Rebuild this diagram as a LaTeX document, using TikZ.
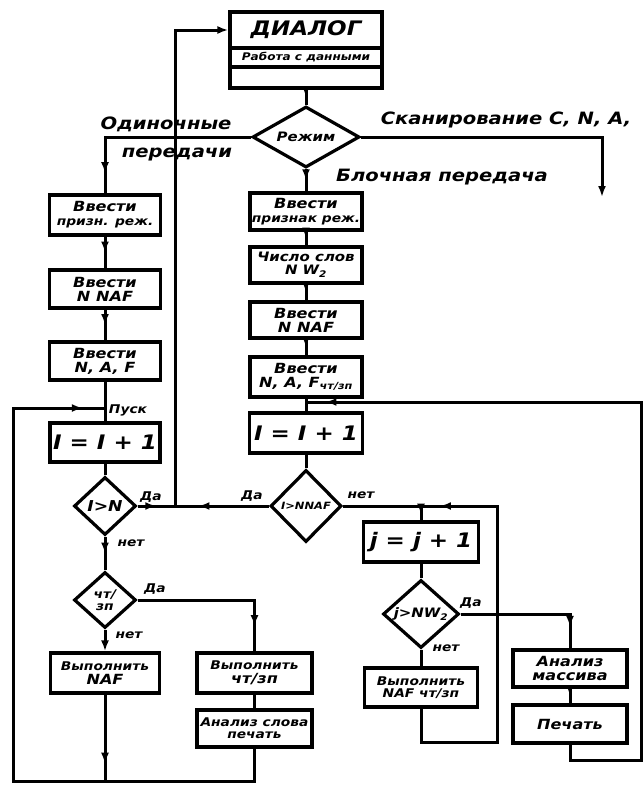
\documentclass[tikz,border=0pt]{standalone}
\usepackage{fontspec}
\newfontfamily\hand{DejaVu Sans}[FakeStretch=1.15]
\usetikzlibrary{shapes.geometric,arrows.meta,decorations.markings}
\tikzset{
  hf/.style={font=\hand\bfseries\itshape\fontsize{#1}{#1}\selectfont},
  box/.style={draw, line width=3.2pt, rectangle, inner sep=1pt, align=center, hf=14},
  dia/.style={draw, line width=3.2pt, diamond, inner sep=0pt, align=center, hf=12},
  flow/.style={line width=3pt},
  lbl/.style={hf=17, inner sep=0pt},
  yn/.style={hf=12, inner sep=0pt},
  marr/.style={postaction={decorate}, decoration={markings, mark=at position #1 with {\arrow{Latex[length=11pt,width=8pt]}}}},
  marr/.default=0.5,
  endarr/.style={-{Latex[length=11pt,width=8pt]}},
}
\newcommand{\sm}[1]{{\fontsize{12}{12}\selectfont #1}}
\begin{document}
\begin{tikzpicture}[x=1pt,y=-1pt]
\useasboundingbox (0,0) rectangle (643,788);
% --- DIALOG block
\node[box, minimum width=152pt, minimum height=36pt, hf=20] (dtop) at (306,30) {ДИАЛОГ};
\node[box, minimum width=152pt, minimum height=19pt, hf=10.5] (dmid) at (306,57.5) {Работа с данными};
\node[box, minimum width=152pt, minimum height=21pt] (dbot) at (306,77.5) {};
\node[dia, minimum width=107pt, minimum height=61pt, aspect=1.75, hf=13] (mode) at (306,137) {Режим};
% --- left column
\node[box, minimum width=111pt, minimum height=40pt] (b1) at (105,215) {Ввести\\\sm{призн. реж.}};
\node[box, minimum width=111pt, minimum height=38pt] (b2) at (105,289) {Ввести\\N NAF};
\node[box, minimum width=111pt, minimum height=38pt] (b3) at (105,361) {Ввести\\N, A, F};
\node[box, minimum width=110pt, minimum height=39pt, hf=20] (li) at (105,442.5) {I = I + 1};
\node[dia, minimum width=62pt, minimum height=58pt, aspect=1.07, hf=15] (ign) at (105,506) {I>N};
\node[dia, minimum width=62pt, minimum height=56pt, aspect=1.1, hf=12] (rw) at (105,600) {чт/\\зп};
\node[box, minimum width=109pt, minimum height=40pt] (lexn) at (105,673) {\sm{Выполнить}\\NAF};
\node[box, minimum width=115pt, minimum height=40pt] (lexr) at (254.5,673) {\sm{Выполнить}\\чт/зп};
\node[box, minimum width=115pt, minimum height=37pt, hf=12] (lan) at (254.5,728.5) {Анализ слова\\печать};
% --- middle column
\node[box, minimum width=112pt, minimum height=37pt] (m1) at (306,211.5) {Ввести\\\sm{признак реж.}};
\node[box, minimum width=112pt, minimum height=36pt, hf=13] (m2) at (306,265) {Число слов\\N W\textsubscript{2}};
\node[box, minimum width=112pt, minimum height=36pt] (m3) at (306,320) {Ввести\\N NAF};
\node[box, minimum width=112pt, minimum height=40pt] (m4) at (306,377) {Ввести\\N, A, F\textsubscript{чт/зп}};
\node[box, minimum width=113pt, minimum height=40pt, hf=20] (mi) at (306,433) {I = I + 1};
\node[dia, minimum width=71pt, minimum height=72pt, aspect=1, hf=10] (innaf) at (306,506) {I>NNAF};
% --- right column
\node[box, minimum width=115pt, minimum height=40pt, hf=20] (rj) at (421,542) {j = j + 1};
\node[dia, minimum width=76pt, minimum height=68pt, aspect=1.1, hf=13] (jnw) at (421,614) {j>NW\textsubscript{2}};
\node[box, minimum width=113pt, minimum height=39pt, hf=12] (rex) at (421,687.5) {Выполнить\\NAF чт/зп};
\node[box, minimum width=114pt, minimum height=37pt] (ran) at (570,668.5) {Анализ\\массива};
\node[box, minimum width=114pt, minimum height=38pt] (rpr) at (570,724) {Печать};
% --- coordinates
\coordinate (scan) at (602,197);
\coordinate (pusk) at (105,408);
\coordinate (J) at (175,506);
\coordinate (lbot) at (105,781);
\coordinate (lcorner) at (13,781);
\coordinate (mj) at (306,402);
\coordinate (rc1) at (641,760);
\coordinate (jt) at (421,506);
\coordinate (rc2) at (497,742);
% --- connectors
\draw[flow, marr] (dbot.south) -- (mode.north);
\draw[flow, marr=0.9] (mode.west) -| (b1.north);
\draw[flow, endarr] (mode.east) -| (scan);
\draw[flow, marr] (mode.south) -- (m1.north);
\draw[flow, marr] (b1.south) -- (b2.north);
\draw[flow, marr] (b2.south) -- (b3.north);
\draw[flow] (b3.south) -- (li.north);
\draw[flow] (li.south) -- (ign.north);
\draw[flow, marr] (ign.south) -- (rw.north);
\draw[flow, marr] (ign.east) -- (J);
\draw[flow, marr=0.75] (innaf.west) -- (J);
\draw[flow, endarr] (J) |- (dtop.west);
\draw[flow, marr=0.85] (rw.east) -| (lexr.north);
\draw[flow, endarr] (rw.south) -- (lexn.north);
\draw[flow] (lexr.south) -- (lan.north);
\draw[flow, marr=0.8] (lexn.south) -- (lbot);
\draw[flow, marr=0.97] (lan.south) |- (lcorner) |- (pusk);
\draw[flow, marr] (m1.south) -- (m2.north);
\draw[flow, marr] (m2.south) -- (m3.north);
\draw[flow, marr] (m3.south) -- (m4.north);
\draw[flow] (m4.south) -- (mi.north);
\draw[flow, marr=0.975] (rpr.south) |- (rc1) |- (mj);
\draw[flow] (mi.south) -- (innaf.north);
\draw[flow] (innaf.east) -- (jt);
\draw[flow, marr=0.6] (jt) -- (rj.north);
\draw[flow] (rj.south) -- (jnw.north);
\draw[flow] (jnw.south) -- (rex.north);
\draw[flow, marr=0.85] (jnw.east) -| (ran.north);
\draw[flow, marr] (ran.south) -- (rpr.north);
\draw[flow, marr=0.955] (rex.south) |- (rc2) |- (jt);
% --- labels
\node[lbl] (l1) at (166,124) {Одиночные};
\node[lbl] (l2) at (177,155) {передачи};
\node[lbl] (l3) at (506,120) {Сканирование C, N, A,};
\node[lbl] (l4) at (442,177) {Блочная передача};
\node[yn] (l5) at (128,410) {Пуск};
\node[yn] (y1) at (151,497) {Да};
\node[yn] (n1) at (131,543) {нет};
\node[yn] (y2) at (155,589) {Да};
\node[yn] (n2) at (129,635) {нет};
\node[yn] (y3) at (252,496) {Да};
\node[yn] (n3) at (361,495) {нет};
\node[yn] (y4) at (471,603) {Да};
\node[yn] (n4) at (446,648) {нет};
\end{tikzpicture}
\end{document}
